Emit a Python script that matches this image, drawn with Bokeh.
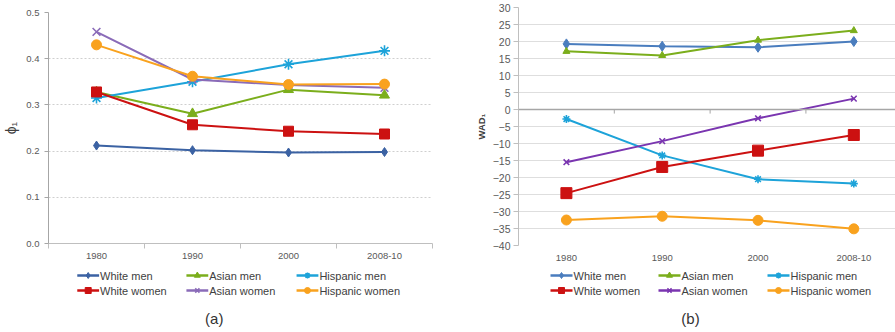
from bokeh.plotting import figure
from bokeh.layouts import row, column
from bokeh.models import Range1d, FixedTicker, PrintfTickFormatter, Span, ColumnDataSource
from bokeh.core.properties import value
from bokeh.embed import file_html
from bokeh.resources import INLINE

# ---- data -------------------------------------------------------------
periods = ["1980", "1990", "2000", "2008-10"]
groups = ["White men", "Asian men", "Hispanic men",
          "White women", "Asian women", "Hispanic women"]

# panel (a): phi_1
phi_white_men = [0.212, 0.202, 0.197, 0.198]
phi_asian_men = [0.328, 0.281, 0.333, 0.321]
phi_hispanic_men = [0.315, 0.350, 0.388, 0.417]
phi_white_women = [0.328, 0.257, 0.243, 0.237]
phi_asian_women = [0.458, 0.355, 0.343, 0.337]
phi_hispanic_women = [0.430, 0.362, 0.344, 0.345]

# panel (b): WAD_1
wad_white_men = [19.3, 18.6, 18.3, 20.0]
wad_asian_men = [17.1, 15.9, 20.4, 23.2]
wad_hispanic_men = [-2.8, -13.5, -20.5, -21.8]
wad_white_women = [-24.6, -16.9, -12.1, -7.5]
wad_asian_women = [-15.5, -9.3, -2.6, 3.2]
wad_hispanic_women = [-32.5, -31.4, -32.6, -35.1]

phi_ticks = [0.0, 0.1, 0.2, 0.3, 0.4, 0.5]
wad_ticks = [-40, -35, -30, -25, -20, -15, -10, -5, 0, 5, 10, 15, 20, 25, 30]

phi_series = [phi_white_men, phi_asian_men, phi_hispanic_men,
              phi_white_women, phi_asian_women, phi_hispanic_women]
wad_series = [wad_white_men, wad_asian_men, wad_hispanic_men,
              wad_white_women, wad_asian_women, wad_hispanic_women]

# ---- styles -----------------------------------------------------------
FONT = "Liberation Sans"
TICK_COLOR = "#595959"
markers = ["diamond", "triangle", "asterisk", "square", "x", "circle"]
colors_a = ["#3B62A3", "#7BAE1C", "#1DA3D9", "#CC1111", "#8A6BB8", "#F9A21E"]
colors_b = ["#4A7DBE", "#7BAE1C", "#1DA3D9", "#CC1111", "#7A35B0", "#F9A21E"]
sizes_a = [9, 10, 11, 10, 11, 10]
sizes_b = [10, 7, 8, 11, 8, 10]

xs = [i + 0.5 for i in range(len(periods))]
label_map = {x: lab for x, lab in zip(xs, periods)}


def style_text_axis(ax, size):
    ax.major_label_text_font = FONT
    ax.major_label_text_font_size = size
    ax.major_label_text_color = TICK_COLOR


def marker_width(mk):
    return 1.6 if mk in ("x", "asterisk") else 1


def draw_series(p, series, colors, sizes):
    for vals, col, mk, sz in zip(series, colors, markers, sizes):
        src = ColumnDataSource(dict(x=xs, y=vals))
        p.line("x", "y", source=src, line_color=col, line_width=2)
        p.scatter("x", "y", source=src, marker=mk, size=sz,
                  fill_color=col, line_color=col, line_width=marker_width(mk))


# ---- panel (a) --------------------------------------------------------
pa = figure(width=447, height=264, x_range=Range1d(0, len(periods)),
            y_range=Range1d(phi_ticks[0], phi_ticks[-1]),
            output_backend="svg", toolbar_location=None,
            min_border_left=45, min_border_right=15,
            min_border_top=12, min_border_bottom=21,
            outline_line_color=None, background_fill_color="white",
            border_fill_color="white")
pa.xgrid.visible = False
pa.ygrid.grid_line_color = "#cfcfcf"
pa.ygrid.grid_line_dash = "2 2"
pa.ygrid.ticker = FixedTicker(ticks=phi_ticks)

ya = pa.yaxis[0]
ya.ticker = FixedTicker(ticks=phi_ticks)
ya.formatter = PrintfTickFormatter(format="%.1f")
ya.axis_line_color = "#a6a6a6"
ya.major_tick_line_color = "#a6a6a6"
ya.major_tick_out = 4
ya.major_tick_in = 0
ya.minor_tick_line_color = None
ya.major_label_standoff = 5
style_text_axis(ya, "9.5px")
ya.axis_label = "ϕ₁"
ya.axis_label_text_font = FONT
ya.axis_label_text_font_style = "normal"
ya.axis_label_text_font_size = "14px"
ya.axis_label_text_color = "#404040"
ya.axis_label_standoff = 4

xa = pa.xaxis[0]
xa.ticker = FixedTicker(ticks=xs, minor_ticks=list(range(len(periods) + 1)))
xa.major_label_overrides = label_map
xa.axis_line_color = "#bfbfbf"
xa.major_tick_line_color = None
xa.major_tick_out = 0
xa.major_tick_in = 0
xa.minor_tick_line_color = "#bfbfbf"
xa.minor_tick_out = 5
xa.minor_tick_in = 0
xa.major_label_standoff = 4
style_text_axis(xa, "9.5px")

draw_series(pa, phi_series, colors_a, sizes_a)

# ---- panel (b) --------------------------------------------------------
pb = figure(width=448, height=264, x_range=Range1d(0, 3.935),
            y_range=Range1d(wad_ticks[0], wad_ticks[-1]),
            output_backend="svg", toolbar_location=None,
            min_border_left=71, min_border_right=0,
            min_border_top=7, min_border_bottom=19,
            outline_line_color=None, background_fill_color="white",
            border_fill_color="white")
pb.xgrid.visible = False
pb.ygrid.grid_line_color = "#dedede"
pb.ygrid.ticker = FixedTicker(ticks=wad_ticks)

yb = pb.yaxis[0]
yb.ticker = FixedTicker(ticks=wad_ticks)
yb.axis_line_color = "#bfbfbf"
yb.major_tick_line_color = "#bfbfbf"
yb.major_tick_out = 5
yb.major_tick_in = 0
yb.minor_tick_line_color = None
yb.major_label_standoff = 3
style_text_axis(yb, "10.5px")
yb.axis_label = "WAD₁"
yb.axis_label_text_font = FONT
yb.axis_label_text_font_style = "bold"
yb.axis_label_text_font_size = "9.5px"
yb.axis_label_text_color = "#404040"
yb.axis_label_standoff = 3

xb = pb.xaxis[0]
xb.ticker = FixedTicker(ticks=xs)
xb.major_label_overrides = label_map
xb.axis_line_color = None
xb.major_tick_line_color = None
xb.minor_tick_line_color = None
xb.major_label_standoff = 3
style_text_axis(xb, "9.5px")

# horizontal category axis crossing at zero, with ticks between periods
pb.add_layout(Span(location=0, dimension="width", line_color="#a6a6a6", line_width=1.3))
bounds = list(range(1, len(periods) + 1))
pb.segment(x0=bounds, y0=[0] * len(bounds), x1=bounds, y1=[-1.2] * len(bounds),
           line_color="#a6a6a6", line_width=1)

draw_series(pb, wad_series, colors_b, sizes_b)


# ---- legends underneath -----------------------------------------------
# Each legend strip shares its chart's frame edges (the column aligns them),
# so its x range is set to run in pixels measured from the column's left edge.
def legend_fig(width, frame_left, frame_right, col_x, colors, caption, caption_x):
    lf = figure(width=width, height=68,
                x_range=Range1d(frame_left, width - frame_right),
                y_range=Range1d(68, 0), output_backend="svg",
                toolbar_location=None,
                min_border_left=frame_left, min_border_right=frame_right,
                min_border_top=0, min_border_bottom=0,
                outline_line_color=None, border_fill_color="white")
    lf.axis.visible = False
    lf.grid.visible = False
    row_y = [11, 26]
    for i, name in enumerate(groups):
        x0 = col_x[i % 3]
        y = row_y[i // 3]
        lf.segment(x0=[x0], y0=[y], x1=[x0 + 22], y1=[y],
                   line_color=colors[i], line_width=2.5)
        lf.scatter(x=[x0 + 11], y=[y], marker=markers[i], size=6,
                   fill_color=colors[i], line_color=colors[i],
                   line_width=marker_width(markers[i]))
        lf.text(x=[x0 + 23], y=[y], text=[name], text_font=value(FONT),
                text_font_size=value("11px"), text_baseline="middle",
                text_color="#404040")
    lf.text(x=[caption_x], y=[54], text=[caption], text_font=value(FONT),
            text_font_size=value("15px"), text_baseline="middle", text_align="center",
            text_color="#333333")
    return lf


la = legend_fig(447, 45, 15, [74, 184, 295], colors_a, "(a)", 212)
lb = legend_fig(448, 71, 0, [103, 211, 320], colors_b, "(b)", 243)

layout = row(column(pa, la), column(pb, lb))

with open("out.html", "w") as f:
    f.write(file_html(layout, INLINE))
